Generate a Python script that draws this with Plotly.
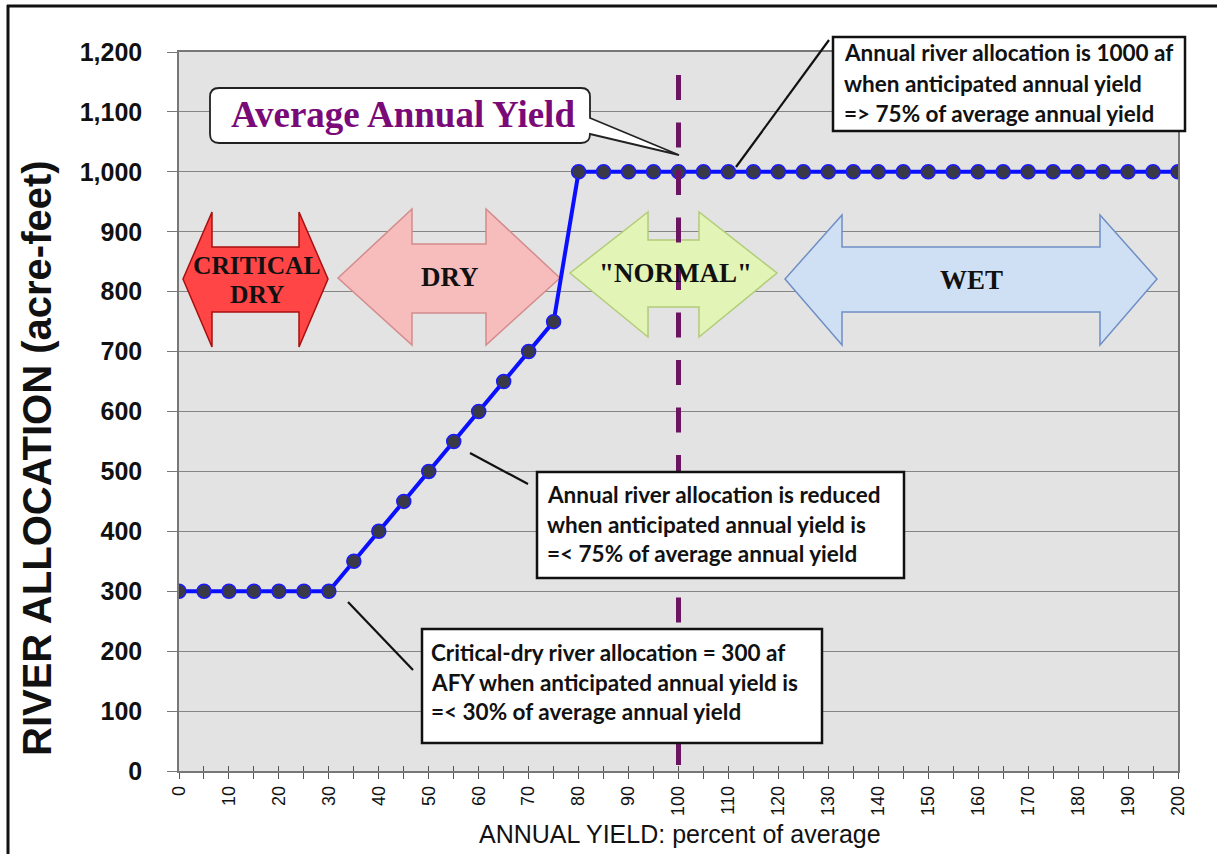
import plotly.graph_objects as go

# ---------------- data ----------------
annual_yield_pct = [0, 5, 10, 15, 20, 25, 30, 35, 40, 45, 50, 55, 60, 65, 70, 75,
                    80, 85, 90, 95, 100, 105, 110, 115, 120, 125, 130, 135, 140,
                    145, 150, 155, 160, 165, 170, 175, 180, 185, 190, 195, 200]
river_allocation_af = [300, 300, 300, 300, 300, 300, 300, 350, 400, 450, 500, 550,
                       600, 650, 700, 750, 1000, 1000, 1000, 1000, 1000, 1000, 1000,
                       1000, 1000, 1000, 1000, 1000, 1000, 1000, 1000, 1000, 1000,
                       1000, 1000, 1000, 1000, 1000, 1000, 1000, 1000]
x_tick_values = [0, 10, 20, 30, 40, 50, 60, 70, 80, 90, 100, 110, 120, 130, 140,
                 150, 160, 170, 180, 190, 200]
y_tick_values = [0, 100, 200, 300, 400, 500, 600, 700, 800, 900, 1000, 1100, 1200]
average_yield_pct = 100
zone_names = ["CRITICAL DRY", "DRY", '"NORMAL"', "WET"]

note_top = ["Annual river allocation is 1000 af",
            "when anticipated annual yield",
            "=> 75% of average annual yield"]
note_mid = ["Annual river allocation is reduced",
            "when anticipated annual yield is",
            "=< 75% of average annual yield"]
note_low = ["Critical-dry river allocation = 300 af",
            "AFY when anticipated annual yield is",
            "=< 30% of average annual yield"]

# ---------------- layout geometry (pixels) ----------------
W, H = 1217, 854
PL, PR, PT, PB = 179, 1178, 52, 771
XMAX, YMAX = 200, 1200


def dx(px):
    return (px - PL) / (PR - PL) * XMAX


def dy(py):
    return (PB - py) / (PB - PT) * YMAX


def px_(px):
    return (px - PL) / (PR - PL)


def py_(py):
    return (PB - py) / (PB - PT)


fig = go.Figure()

fig.add_trace(go.Scatter(
    x=annual_yield_pct, y=river_allocation_af, mode="lines+markers",
    line=dict(color="#0a10ff", width=4),
    marker=dict(size=14, color="#3a3a46", line=dict(color="#1a1aff", width=1.5)),
    showlegend=False, hoverinfo="x+y"))

# helper trace for crossing ticks axis
fig.add_trace(go.Scatter(x=[0, 200], y=[None, None], xaxis="x2", showlegend=False,
                         hoverinfo="skip", mode="markers"))

shapes = []
annotations = []

# ---- zone arrows ----
arrow_geo = [
    dict(x0=183, x1=328, hl=29, cy=279, ht=212, hb=347, bt=247, bb=312,
         fill="#ff4545", line="#a81010", tx=[(257, 265, "CRITICAL"), (257, 294, "DRY")]),
    dict(x0=338, x1=560, hl=74, cy=278, ht=209, hb=345, bt=244, bb=313,
         fill="#f7bcbc", line="#d48c8c", tx=[(450, 277, None)]),
    dict(x0=570, x1=777, hl=78, cy=273, ht=212, hb=337, bt=240, bb=307,
         fill="#e2f5b6", line="#b2cc78", tx=[(675, 273, None)]),
    dict(x0=785, x1=1157, hl=57, cy=279, ht=215, hb=345, bt=247, bb=312,
         fill="#d0e0f4", line="#6f8fc5", tx=[(971, 280, None)]),
]
for name, g in zip(zone_names, arrow_geo):
    pts = [(g["x0"], g["cy"]), (g["x0"] + g["hl"], g["ht"]), (g["x0"] + g["hl"], g["bt"]),
           (g["x1"] - g["hl"], g["bt"]), (g["x1"] - g["hl"], g["ht"]), (g["x1"], g["cy"]),
           (g["x1"] - g["hl"], g["hb"]), (g["x1"] - g["hl"], g["bb"]),
           (g["x0"] + g["hl"], g["bb"]), (g["x0"] + g["hl"], g["hb"])]
    path = "M " + " L ".join(f"{dx(a):.3f},{dy(b):.3f}" for a, b in pts) + " Z"
    shapes.append(dict(type="path", xref="x", yref="y", path=path, layer="between",
                       fillcolor=g["fill"], line=dict(color=g["line"], width=1.5)))
    multi = len(g["tx"]) > 1
    words = name.split(" ") if multi else [name]
    for (tx, ty, _), w in zip(g["tx"], words):
        annotations.append(dict(x=dx(tx), y=dy(ty), xref="x", yref="y", text=f"<b>{w}</b>",
                                showarrow=False, xanchor="center", yanchor="middle",
                                font=dict(family="Liberation Serif, Times New Roman, serif",
                                          size=25.5 if multi else 27, color="#111111")))

# ---- average yield dashed line ----
shapes.append(dict(type="line", xref="x", yref="y", x0=average_yield_pct, x1=average_yield_pct,
                   y0=dy(75), y1=0, layer="above",
                   line=dict(color="#6b1462", width=5, dash="25px,22.5px")))

# ---- pointer lines ----
for (a, b, c, d) in [(736, 167, 829, 40), (470, 453, 528, 484), (348, 602, 413, 670)]:
    shapes.append(dict(type="line", xref="paper", yref="paper", x0=px_(a), y0=py_(b),
                       x1=px_(c), y1=py_(d), layer="above", line=dict(color="#111111", width=2.2)))

# ---- note boxes ----
boxes = [((833, 37, 1185, 131), note_top, 842, [53, 83, 113]),
         ((537, 472, 904, 578), note_mid, 545, [494, 524, 553]),
         ((422, 629, 822, 743), note_low, 429, [652, 682, 711])]
for (x0, y0, x1, y1), lines, tx, tys in boxes:
    shapes.append(dict(type="rect", xref="paper", yref="paper", x0=px_(x0), y0=py_(y0),
                       x1=px_(x1), y1=py_(y1), layer="above", fillcolor="white",
                       line=dict(color="#111111", width=2.5)))
    for line, ty in zip(lines, tys):
        annotations.append(dict(x=px_(tx), y=py_(ty), xref="paper", yref="paper", text=line,
                                showarrow=False, xanchor="left", yanchor="middle",
                                font=dict(family="Lato, Open Sans, sans-serif", size=22.5,
                                          color="#111111", weight="bold")))

# ---- "Average Annual Yield" callout ----
bx0, by0, bx1, by1, r = 210, 88, 590, 143, 9
tail = [(590, 118), (679, 155), (590, 134)]
pts_path = (f"M {px_(bx0 + r)},{py_(by0)} L {px_(bx1 - r)},{py_(by0)} "
            f"Q {px_(bx1)},{py_(by0)} {px_(bx1)},{py_(by0 + r)} "
            f"L {px_(tail[0][0])},{py_(tail[0][1])} L {px_(tail[1][0])},{py_(tail[1][1])} "
            f"L {px_(tail[2][0])},{py_(tail[2][1])} "
            f"L {px_(bx1)},{py_(by1 - r)} Q {px_(bx1)},{py_(by1)} {px_(bx1 - r)},{py_(by1)} "
            f"L {px_(bx0 + r)},{py_(by1)} Q {px_(bx0)},{py_(by1)} {px_(bx0)},{py_(by1 - r)} "
            f"L {px_(bx0)},{py_(by0 + r)} Q {px_(bx0)},{py_(by0)} {px_(bx0 + r)},{py_(by0)} Z")
shapes.append(dict(type="path", xref="paper", yref="paper", path=pts_path, layer="above",
                   fillcolor="white", line=dict(color="#222222", width=1.8)))
annotations.append(dict(x=px_(403), y=py_(114), xref="paper", yref="paper",
                        text="<b>Average Annual Yield</b>", showarrow=False,
                        xanchor="center", yanchor="middle",
                        font=dict(family="Liberation Serif, Times New Roman, serif",
                                  size=37, color="#7a0a78")))

# ---- outer frame (top and left) ----
shapes.append(dict(type="line", xref="paper", yref="paper", x0=px_(7), x1=px_(W + 5),
                   y0=py_(6), y1=py_(6), line=dict(color="#111111", width=3)))
shapes.append(dict(type="line", xref="paper", yref="paper", x0=px_(8), x1=px_(8),
                   y0=py_(5), y1=py_(H + 5), line=dict(color="#111111", width=3)))

# ---- axis titles ----
annotations.append(dict(x=px_(37), y=py_(458), xref="paper", yref="paper",
                        text="<b>RIVER ALLOCATION (acre-feet)</b>", textangle=-90,
                        showarrow=False, xanchor="center", yanchor="middle",
                        font=dict(family="Liberation Sans, Arial, sans-serif", size=40,
                                  color="#111111")))
annotations.append(dict(x=px_(680), y=py_(834), xref="paper", yref="paper",
                        text="ANNUAL YIELD: percent of average",
                        showarrow=False, xanchor="center", yanchor="middle",
                        font=dict(family="Liberation Sans, Arial, sans-serif",
                                  size=25, color="#111111")))

fig.update_layout(
    width=W, height=H, autosize=False,
    margin=dict(l=PL, r=W - PR, t=PT, b=H - PB, pad=0),
    paper_bgcolor="white", plot_bgcolor="#e3e3e3",
    showlegend=False,
    shapes=shapes, annotations=annotations,
    xaxis=dict(range=[0, XMAX], tickvals=x_tick_values, ticktext=[str(v) for v in x_tick_values],
               tickangle=-90, ticks="outside", ticklen=6, tickcolor="#555555",
               minor=dict(dtick=5, ticks="outside", ticklen=6, tickcolor="#555555", showgrid=False),
               showgrid=False, zeroline=False, showline=True, linecolor="#777777",
               linewidth=1.5, mirror=True,
               tickfont=dict(family="Liberation Sans, Arial, sans-serif", size=18,
                             color="#111111")),
    xaxis2=dict(range=[0, XMAX], overlaying="x", anchor="y", side="bottom",
                dtick=5, tick0=0, ticks="inside", ticklen=5, tickcolor="#555555",
                showticklabels=False, showgrid=False, zeroline=False, showline=False),
    yaxis=dict(range=[0, YMAX], tickvals=y_tick_values, tickformat=",d",
               ticks="outside", ticklen=10, tickcolor="#777777",
               showgrid=True, gridcolor="#858585", gridwidth=1.2,
               zeroline=False, showline=True, linecolor="#777777", linewidth=1.5,
               mirror=True, ticklabelstandoff=20,
               tickfont=dict(family="Liberation Sans, Arial, sans-serif", size=25,
                             color="#111111", weight="bold")),
)

fig.write_html("out.html", config={"displayModeBar": False},
               post_script="document.body.style.margin='0';")
